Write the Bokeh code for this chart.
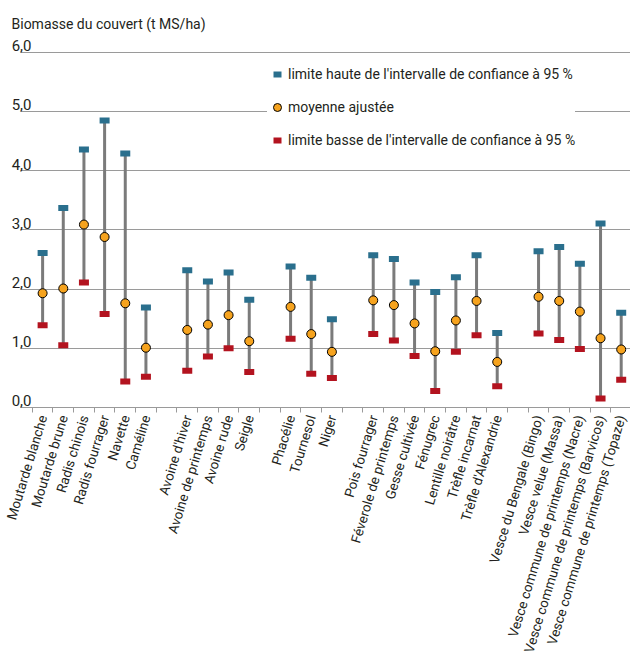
from bokeh.plotting import figure
from bokeh.models import (ColumnDataSource, FixedTicker, CustomJSTickFormatter,
                          Legend, LegendItem, Range1d)
from bokeh.embed import file_html
from bokeh.resources import INLINE
import math

# Species, grouped by family (a blank slot separates the groups)
crucifers = ["Moutarde blanche", "Moutarde brune", "Radis chinois",
             "Radis fourrager", "Navette", "Caméline"]
cereals = ["Avoine d'hiver", "Avoine de printemps", "Avoine rude", "Seigle"]
others = ["Phacélie", "Tournesol", "Niger"]
legumes = ["Pois fourrager", "Féverole de printemps", "Gesse cultivée",
           "Fénugrec", "Lentille noirâtre", "Trèfle incarnat",
           "Trèfle d'Alexandrie"]
vetches = ["Vesce du Bengale (Bingo)", "Vesce velue (Massa)",
           "Vesce commune de printemps (Nacre)",
           "Vesce commune de printemps (Barvicos)",
           "Vesce commune de printemps (Topaze)"]
groups = [crucifers, cereals, others, legumes, vetches]

# Cover-crop biomass (t MS/ha): upper 95 % limit, adjusted mean, lower 95 % limit
upper = [2.61, 3.37, 4.36, 4.85, 4.29, 1.69,
         2.32, 2.13, 2.28, 1.82,
         2.38, 2.19, 1.49,
         2.57, 2.51, 2.11, 1.95, 2.20, 2.57, 1.26,
         2.64, 2.71, 2.43, 3.11, 1.60]
mean = [1.93, 2.01, 3.09, 2.88, 1.76, 1.01,
        1.31, 1.40, 1.56, 1.12,
        1.70, 1.24, 0.94,
        1.81, 1.73, 1.42, 0.95, 1.47, 1.80, 0.77,
        1.87, 1.80, 1.62, 1.17, 0.98]
lower = [1.39, 1.05, 2.11, 1.58, 0.44, 0.52,
         0.62, 0.86, 1.00, 0.60,
         1.16, 0.57, 0.50,
         1.24, 1.13, 0.87, 0.28, 0.94, 1.22, 0.36,
         1.25, 1.14, 0.99, 0.15, 0.47]

y_ticks = [0, 1, 2, 3, 4, 5, 6]

# slot index of each species, with one empty slot between groups
names, xs = [], []
slot = 0
for gi, g in enumerate(groups):
    for n in g:
        names.append(n)
        xs.append(slot)
        slot += 1
    if gi < len(groups) - 1:
        slot += 1
n_slots = slot

FONT = "Roboto"
TEXT = "#231f20"
GRID = "#9a9a9a"
TEAL = "#2a6f8d"
RED = "#b3131f"
ORANGE = "#f6a31e"
BAR = "#7b7b7b"

src = ColumnDataSource(dict(x=xs, name=names, upper=upper, mean=mean, lower=lower))

p = figure(width=630, height=659, output_backend="svg", toolbar_location=None,
           x_range=Range1d(-1.07, n_slots - 0.55), y_range=Range1d(0, 6.25),
           min_border_left=20, min_border_right=0, min_border_top=37,
           min_border_bottom=249)
p.outline_line_color = None
p.background_fill_color = "white"

p.title.text = "Biomasse du couvert (t MS/ha)"
p.title.text_font = FONT
p.title.text_font_size = "14px"
p.title.text_font_style = "normal"
p.title.text_color = TEXT
p.title.align = "left"
p.title.offset = -9
p.title.standoff = 11

# grid
p.xgrid.visible = False
p.ygrid.ticker = FixedTicker(ticks=y_ticks[1:])
p.ygrid.grid_line_color = GRID
p.ygrid.grid_line_width = 1.2

# y axis: labels sit just above their grid line
lift = 0.11
p.yaxis.ticker = FixedTicker(ticks=[v + lift for v in y_ticks])
p.yaxis.formatter = CustomJSTickFormatter(
    args=dict(lift=lift),
    code="return (tick - lift).toFixed(1).replace('.', ',');")
p.yaxis.axis_line_color = None
p.yaxis.major_tick_line_color = None
p.yaxis.minor_tick_line_color = None
p.yaxis.major_tick_out = 0
p.yaxis.major_tick_in = 0
p.yaxis.major_label_standoff = -11
p.yaxis.major_label_text_font = FONT
p.yaxis.major_label_text_font_size = "15px"
p.yaxis.major_label_text_color = TEXT

# x axis: names at slot centres, small ticks at slot boundaries
p.xaxis.ticker = FixedTicker(ticks=xs,
                             minor_ticks=[i - 0.5 for i in range(n_slots + 1)])
p.xaxis.major_label_overrides = {x: n for x, n in zip(xs, names)}
p.xaxis.major_label_orientation = math.radians(73)
p.xaxis.major_tick_out = 0
p.xaxis.major_tick_in = 0
p.xaxis.minor_tick_out = 5
p.xaxis.minor_tick_in = 0
p.xaxis.minor_tick_line_color = GRID
p.xaxis.axis_line_color = GRID
p.xaxis.axis_line_width = 1.2
p.xaxis.major_label_standoff = 3
p.xaxis.major_label_text_font = FONT
p.xaxis.major_label_text_font_size = "13.5px"
p.xaxis.major_label_text_color = TEXT

# confidence intervals
p.segment(x0="x", y0="lower", x1="x", y1="upper", source=src,
          line_color=BAR, line_width=3)
r_up = p.scatter(x="x", y="upper", source=src, marker="dash", size=10,
                 line_color=TEAL, line_width=6, line_cap="butt")
r_lo = p.scatter(x="x", y="lower", source=src, marker="dash", size=10,
                 line_color=RED, line_width=6, line_cap="butt")
r_mean = p.scatter(x="x", y="mean", source=src, marker="circle", size=9,
                   fill_color=ORANGE, line_color="black", line_width=1)

legend = Legend(items=[
    LegendItem(label="limite haute de l'intervalle de confiance à 95 %", renderers=[r_up]),
    LegendItem(label="moyenne ajustée", renderers=[r_mean]),
    LegendItem(label="limite basse de l'intervalle de confiance à 95 %", renderers=[r_lo]),
], location=(247, 257))
legend.glyph_width = 20
legend.glyph_height = 20
legend.label_height = 20
legend.spacing = 13
legend.padding = 5
legend.margin = 0
legend.label_standoff = 1
legend.border_line_color = None
legend.background_fill_color = "white"
legend.background_fill_alpha = 1
legend.label_text_font = FONT
legend.label_text_font_size = "14px"
legend.label_text_color = TEXT
p.add_layout(legend)

open("out.html", "w").write(file_html(p, INLINE))
